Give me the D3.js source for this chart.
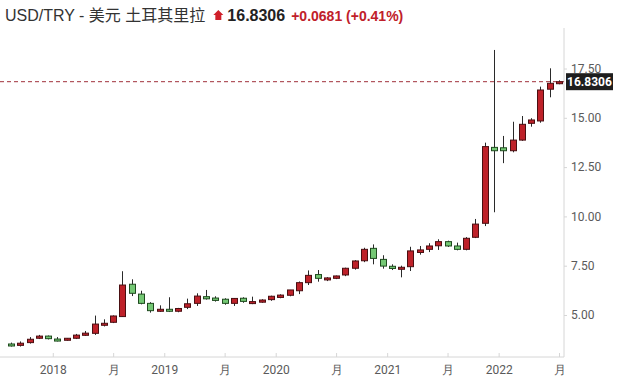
<!DOCTYPE html>
<html>
<head>
<meta charset="utf-8">
<script src="https://cdnjs.cloudflare.com/ajax/libs/d3/7.8.5/d3.min.js"></script>
<style>
  body { margin: 0; background: #fff; }
  .axis text { font-family: Roboto, "Liberation Sans", sans-serif; font-size: 12px; fill: #5a5a5a; }
</style>
</head>
<body>
<div id="chart"></div>
<script>
// monthly candles, Aug 2017 .. Jul 2022
const months = [
  "2017-08","2017-09","2017-10","2017-11","2017-12",
  "2018-01","2018-02","2018-03","2018-04","2018-05","2018-06","2018-07","2018-08","2018-09","2018-10","2018-11","2018-12",
  "2019-01","2019-02","2019-03","2019-04","2019-05","2019-06","2019-07","2019-08","2019-09","2019-10","2019-11","2019-12",
  "2020-01","2020-02","2020-03","2020-04","2020-05","2020-06","2020-07","2020-08","2020-09","2020-10","2020-11","2020-12",
  "2021-01","2021-02","2021-03","2021-04","2021-05","2021-06","2021-07","2021-08","2021-09","2021-10","2021-11","2021-12",
  "2022-01","2022-02","2022-03","2022-04","2022-05","2022-06","2022-07"
];
const opens = [
  3.53, 3.46, 3.60, 3.82, 3.93,
  3.78, 3.74, 3.82, 3.97, 4.07, 4.49, 4.63, 4.92, 6.56, 6.06, 5.59, 5.20,
  5.29, 5.19, 5.39, 5.59, 5.93, 5.86, 5.80, 5.59, 5.85, 5.60, 5.65, 5.78,
  5.89, 6.00, 6.23, 6.64, 7.05, 6.78, 6.86, 7.03, 7.37, 7.75, 8.38, 7.82,
  7.47, 7.33, 7.45, 8.17, 8.33, 8.51, 8.72, 8.50, 8.33, 8.94, 9.65, 13.50,
  13.48, 13.33, 13.87, 14.72, 14.84, 16.45, 16.75
];
const highs = [
  3.60, 3.66, 3.88, 3.99, 3.96,
  3.88, 3.83, 4.04, 4.19, 4.97, 4.78, 4.98, 7.22, 6.81, 6.23, 5.65, 5.49,
  5.90, 5.36, 5.83, 6.10, 6.27, 5.95, 5.85, 5.86, 5.90, 5.93, 5.80, 5.98,
  6.05, 6.27, 6.70, 7.26, 7.28, 6.92, 7.00, 7.40, 7.78, 8.41, 8.58, 8.03,
  7.57, 7.50, 8.46, 8.50, 8.64, 8.84, 8.77, 8.67, 8.95, 9.87, 13.74, 18.44,
  14.08, 14.80, 15.09, 14.98, 16.58, 17.51, 16.90
];
const lows = [
  3.40, 3.40, 3.55, 3.78, 3.76,
  3.66, 3.70, 3.78, 3.94, 3.99, 4.42, 4.59, 4.90, 5.96, 5.54, 5.12, 5.16,
  5.15, 5.14, 5.30, 5.46, 5.78, 5.68, 5.52, 5.46, 5.62, 5.55, 5.62, 5.72,
  5.85, 5.95, 6.06, 6.52, 6.69, 6.72, 6.82, 6.97, 7.30, 7.68, 7.57, 7.35,
  7.28, 6.91, 7.23, 8.06, 8.19, 8.30, 8.45, 8.28, 8.28, 8.90, 9.51, 10.21,
  12.70, 13.25, 13.83, 14.55, 14.75, 16.04, 16.70
];
const closes = [
  3.45, 3.57, 3.77, 3.93, 3.80,
  3.70, 3.82, 3.98, 4.08, 4.54, 4.58, 4.95, 6.52, 6.10, 5.59, 5.22, 5.29,
  5.20, 5.33, 5.57, 5.96, 5.82, 5.74, 5.59, 5.84, 5.69, 5.68, 5.76, 5.95,
  6.01, 6.27, 6.64, 7.01, 6.86, 6.88, 6.98, 7.37, 7.74, 8.33, 7.87, 7.48,
  7.36, 7.42, 8.25, 8.30, 8.50, 8.72, 8.50, 8.33, 8.89, 9.61, 13.54, 13.33,
  13.33, 13.87, 14.67, 14.89, 16.41, 16.75, 16.83
];

const yTicks = [5, 7.5, 10, 12.5, 15, 17.5];
const xTickMonths = ["2018-01","2018-07","2019-01","2019-07","2020-01","2020-07","2021-01","2021-07","2022-01","2022-07"];
const xTickLabels = ["2018","月","2019","月","2020","月","2021","月","2022","月"];

const lastPrice = 16.8306;
const titleText = "USD/TRY - 美元 土耳其里拉";
const changeText = "+0.0681 (+0.41%)";

const width = 629, height = 392;
const plotRight = 564, plotBottom = 357;

const svg = d3.select("#chart").append("svg")
  .attr("width", width)
  .attr("height", height)
  .style("display", "block");

const x = d3.scaleLinear().domain([0, months.length - 1]).range([11, 559]);
const y = d3.scaleLinear().domain([5, 17.5]).range([315, 68.5]);

// x tick positions: january ticks sit half a month before the candle
const xTickPos = xTickMonths.map(m => {
  const i = months.indexOf(m);
  return m.endsWith("-01") ? i - 0.5 : i;
});

// bottom axis
const xAxis = svg.append("g")
  .attr("class", "axis")
  .attr("transform", `translate(0,${plotBottom})`)
  .call(d3.axisBottom(x).tickValues(xTickPos).tickSize(-4).tickPadding(8)
    .tickFormat((d, i) => xTickLabels[i]));
xAxis.select(".domain").attr("d", `M0,0H${plotRight}`).attr("stroke", "#d6d6d6");
xAxis.selectAll(".tick line").attr("stroke", "#d6d6d6");

// right axis
const yAxis = svg.append("g")
  .attr("class", "axis")
  .attr("transform", `translate(${plotRight},0)`)
  .call(d3.axisRight(y).tickValues(yTicks).tickSize(3).tickPadding(4)
    .tickFormat(d3.format(".2f")));
yAxis.select(".domain").attr("d", `M0,28V${plotBottom}`).attr("stroke", "#d6d6d6");
yAxis.selectAll(".tick line").attr("stroke", "#d6d6d6");

// last price dashed line
svg.append("line")
  .attr("x1", 0).attr("x2", plotRight)
  .attr("y1", y(lastPrice)).attr("y2", y(lastPrice))
  .attr("stroke", "#a0303a")
  .attr("stroke-width", 1)
  .attr("stroke-dasharray", "4,3");

// candles
const candles = months.map((m, i) => ({ m, i, o: opens[i], h: highs[i], l: lows[i], c: closes[i] }));
const bw = 6;

const g = svg.append("g");
g.selectAll(".wick")
  .data(candles)
  .enter()
  .append("line")
  .attr("class", "wick")
  .attr("x1", d => Math.round(x(d.i)) + 0.5)
  .attr("x2", d => Math.round(x(d.i)) + 0.5)
  .attr("y1", d => y(d.h))
  .attr("y2", d => y(d.l))
  .attr("stroke", "#2a2a2a")
  .attr("stroke-width", 1);

g.selectAll(".body")
  .data(candles)
  .enter()
  .append("rect")
  .attr("class", "body")
  .attr("x", d => Math.round(x(d.i)) + 0.5 - bw / 2)
  .attr("y", d => y(Math.max(d.o, d.c)))
  .attr("width", bw)
  .attr("height", d => Math.max(2, Math.abs(y(d.o) - y(d.c))))
  .attr("fill", d => d.c >= d.o ? "#be2129" : "#74c874")
  .attr("stroke", d => d.c >= d.o ? "#4a0f12" : "#1f4a1f")
  .attr("stroke-width", 1);

// last price tag
const tag = svg.append("g").attr("transform", `translate(${plotRight + 2},${y(lastPrice)})`);
tag.append("rect")
  .attr("x", 0).attr("y", -8.5)
  .attr("width", 47).attr("height", 17)
  .attr("fill", "#1e1e1e");
tag.append("text")
  .attr("x", 23.5).attr("y", 4.5)
  .attr("text-anchor", "middle")
  .style("font-family", "Roboto, 'Liberation Sans', sans-serif")
  .style("font-size", "12px")
  .style("font-weight", "bold")
  .style("fill", "#fff")
  .text(lastPrice.toFixed(4));

// title
const title = svg.append("text")
  .attr("x", 5).attr("y", 21)
  .style("font-family", "'Liberation Sans', 'Noto Sans CJK SC', sans-serif")
  .style("font-size", "16px")
  .style("fill", "#333")
  .text(titleText);

const tw = title.node().getComputedTextLength();
const ax = 5 + tw + 8;
svg.append("path")
  .attr("d", `M${ax},15 L${ax + 5},10 L${ax + 10},15 L${ax + 8},15 L${ax + 8},20 L${ax + 2},20 L${ax + 2},15 Z`)
  .attr("fill", "#d0202a");

const price = svg.append("text")
  .attr("x", ax + 14).attr("y", 21)
  .style("font-family", "'Liberation Sans', sans-serif")
  .style("font-size", "16px")
  .style("font-weight", "bold")
  .style("fill", "#222")
  .text(lastPrice.toFixed(4));

svg.append("text")
  .attr("x", ax + 14 + price.node().getComputedTextLength() + 6).attr("y", 20.5)
  .style("font-family", "'Liberation Sans', sans-serif")
  .style("font-size", "14px")
  .style("font-weight", "bold")
  .style("fill", "#c0202a")
  .text(changeText);
</script>
</body>
</html>
